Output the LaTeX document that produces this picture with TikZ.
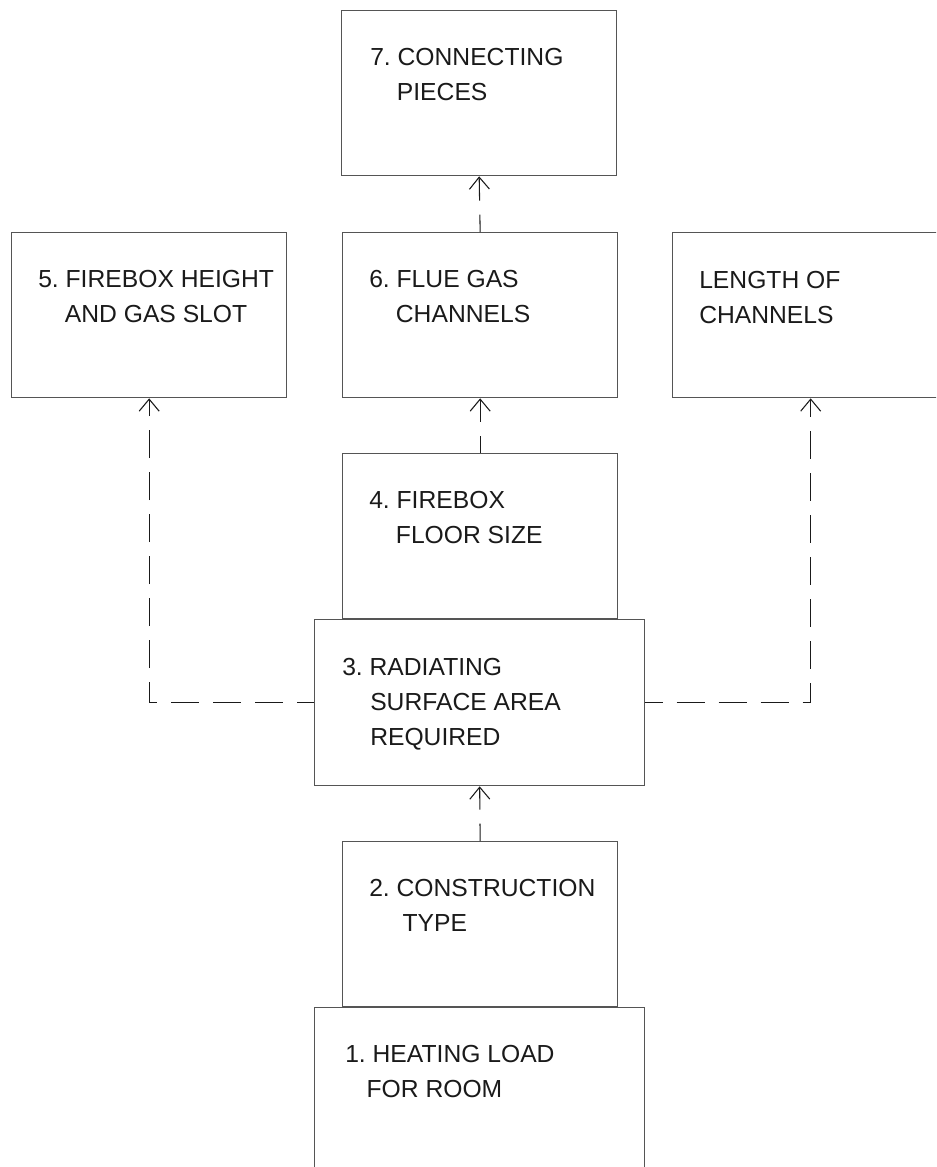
\documentclass[tikz,border=0pt]{standalone}
\usepackage{fontspec}
\setmainfont{Liberation Sans}
\usetikzlibrary{arrows.meta, calc}
\definecolor{line_gray}{HTML}{555555}
\definecolor{ink}{HTML}{1A1A1A}
\frenchspacing

\begin{document}
\begin{tikzpicture}[
    x=0.75pt, y=-0.75pt,
    stage/.style={draw=line_gray, line width=1pt, minimum width=206.25pt,
        minimum height=123.75pt, inner sep=0pt, anchor=north west},
    stagewide/.style={stage, minimum width=247.5pt, minimum height=124.5pt},
    caption/.style={font=\fontsize{18.5}{26.25}\selectfont, text=ink,
        align=left, anchor=base west, inner sep=0pt},
    flow/.style={draw=ink, line width=0.8pt, dash pattern=on 21pt off 10.5pt,
        dash phase=8pt, -{Straight Barb[length=9pt, width=15pt]}}
]
\useasboundingbox (0,0) rectangle (936,1167);
\clip (0,0) rectangle (936,1167);

% top row
\node[stage] (b7) at (341,10) {};
\node[stage] (b5) at (11,232) {};
\node[stage] (b6) at (342,232) {};
\node[stage, minimum width=207pt] (bL) at (672,232) {};

% middle column
\node[stage] (b4) at (342,453) {};
\node[stagewide] (b3) at (314,619) {};
\node[stage] (b2) at (342,841) {};
\node[stagewide] (b1) at (314,1007) {};

% texts (base = last line)
\node[caption] (t7) at ($(b7.north west)+(29,90)$)
    {7. CONNECTING\\\hspace*{20pt}PIECES};
\node[caption] (t5) at ($(b5.north west)+(27,90)$)
    {5. FIREBOX HEIGHT\\\hspace*{20pt}AND GAS SLOT};
\node[caption] (t6) at ($(b6.north west)+(27,90)$)
    {6. FLUE GAS\\\hspace*{20pt}CHANNELS};
\node[caption] (tL) at ($(bL.north west)+(27,91)$)
    {LENGTH OF\\CHANNELS};
\node[caption] (t4) at ($(b4.north west)+(27,90)$)
    {4. FIREBOX\\\hspace*{20pt}FLOOR SIZE};
\node[caption] (t3) at ($(b3.north west)+(28,126)$)
    {3. RADIATING\\\hspace*{21pt}SURFACE AREA\\\hspace*{21pt}REQUIRED};
\node[caption] (t2) at ($(b2.north west)+(27,90)$)
    {2. CONSTRUCTION\\\hspace*{25pt}TYPE};
\node[caption] (t1) at ($(b1.north west)+(31,90)$)
    {1. HEATING LOAD\\\hspace*{16pt}FOR ROOM};

% connectors
\draw[flow] (b6.north) -- (b7.south);
\draw[flow] (b4.north) -- (b6.south);
\draw[flow] (b2.north) -- (b3.south);
\draw[flow] (b3.west) -| (b5.south);
\draw[flow] (b3.east) -| (bL.south);

\end{tikzpicture}
\end{document}
